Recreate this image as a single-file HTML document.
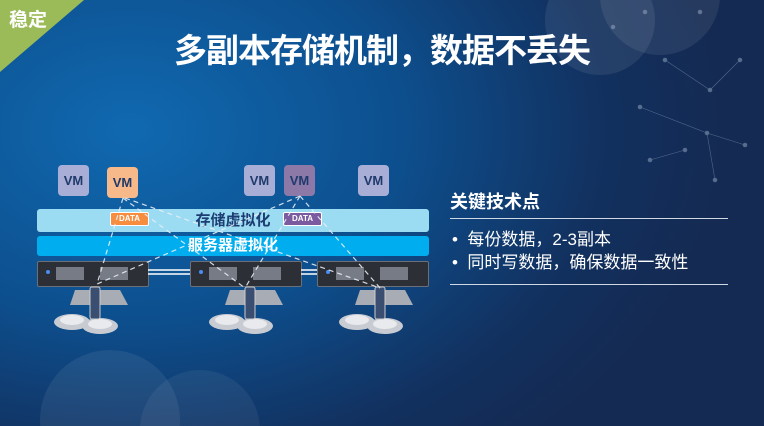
<!DOCTYPE html>
<html><head><meta charset="utf-8"><style>
html,body{margin:0;width:764px;height:426px;overflow:hidden;font-family:"Liberation Sans","Noto Sans CJK SC",sans-serif;}
#c{position:relative;width:764px;height:426px;background:radial-gradient(ellipse 600px 420px at 130px 130px,#1069b0 0%,#0d4f8e 45%,#12305e 80%,#142a52 100%);overflow:hidden}
.a{position:absolute}
.vm{position:absolute;width:31px;height:31px;border-radius:4px;background:#a9aed6;color:#1f3a6b;font-weight:bold;font-size:13px;text-align:center;line-height:31px}
.srv{position:absolute;height:24px;width:110px;background:#2c2f36;border:1px solid #6b6f78;border-radius:2px}
.srv i{position:absolute;top:5px;height:13px;background:#777b85}
.data{position:absolute;height:12px;width:37px;border:1.5px solid #fff;border-radius:2px;color:#fff;font-size:8px;font-weight:bold;text-align:center;line-height:12px}
</style></head><body><div id="c">
<svg class="a" style="left:0;top:0" width="764" height="426">
<circle cx="600" cy="20" r="55" fill="#fff" opacity="0.08"/><circle cx="660" cy="-5" r="60" fill="#fff" opacity="0.08"/>
<circle cx="110" cy="420" r="70" fill="#fff" opacity="0.07"/><circle cx="200" cy="430" r="60" fill="#fff" opacity="0.06"/>
<g stroke="#8fa3c0" stroke-width="0.6" opacity="0.5" fill="#9fb0c8">
<line x1="640" y1="107" x2="707" y2="133"/><line x1="707" y1="133" x2="745" y2="145"/><line x1="707" y1="133" x2="715" y2="180"/><line x1="650" y1="160" x2="685" y2="150"/><line x1="665" y1="60" x2="710" y2="90"/><line x1="710" y1="90" x2="740" y2="60"/>
<circle cx="640" cy="107" r="2"/><circle cx="707" cy="133" r="2"/><circle cx="745" cy="145" r="2"/><circle cx="715" cy="180" r="2"/><circle cx="650" cy="160" r="2"/><circle cx="685" cy="150" r="2"/><circle cx="665" cy="60" r="2"/><circle cx="710" cy="90" r="2"/><circle cx="740" cy="60" r="2"/><circle cx="645" cy="12" r="2"/><circle cx="700" cy="12" r="2"/><circle cx="613" cy="27" r="2"/>
</g>
<polygon points="0,0 84,0 0,72" fill="#9bbb59"/>
</svg>
<div class="a" style="left:9px;top:5px;color:#fff;font-weight:bold;font-size:19px">稳定</div>
<div class="a" style="left:0;width:764px;top:31px;text-align:center;color:#fff;font-weight:bold;font-size:33px;line-height:40px;letter-spacing:-1px">多副本存储机制，数据不丢失</div>
<div class="vm" style="left:58px;top:165px">VM</div>
<div class="vm" style="left:107px;top:167px;background:#f7b98a">VM</div>
<div class="vm" style="left:244px;top:165px">VM</div>
<div class="vm" style="left:284px;top:165px;background:#8c79a8">VM</div>
<div class="vm" style="left:358px;top:165px">VM</div>
<div class="a" style="left:37px;top:209px;width:392px;height:23px;background:#9bdcf3;border-radius:3px;text-align:center;color:#1d3d72;font-weight:bold;font-size:15px;line-height:23px">存储虚拟化</div>
<div class="a" style="left:37px;top:236px;width:392px;height:20px;background:#00aeef;border-radius:3px;text-align:center;color:#fff;font-weight:bold;font-size:15px;line-height:20px">服务器虚拟化</div>
<div class="data" style="left:110px;top:212px;background:#f68d3f">DATA</div>
<div class="data" style="left:283px;top:212px;background:#7b5aa0">DATA</div>
<div class="srv" style="left:37px;top:261px"><i style="left:18px;width:28px"></i><i style="left:62px;width:28px"></i></div>
<div class="srv" style="left:190px;top:261px"><i style="left:18px;width:28px"></i><i style="left:62px;width:28px"></i></div>
<div class="srv" style="left:317px;top:261px"><i style="left:18px;width:28px"></i><i style="left:62px;width:28px"></i></div>
<svg class="a" style="left:0;top:0" width="764" height="426">
<g stroke="#fff" stroke-width="1.5"><line x1="148" y1="270" x2="190" y2="270"/><line x1="148" y1="274" x2="190" y2="274"/><line x1="301" y1="270" x2="317" y2="270"/><line x1="301" y1="274" x2="317" y2="274"/></g>
<g fill="#4a8df0"><circle cx="48" cy="272" r="2"/><circle cx="201" cy="272" r="2"/><circle cx="328" cy="272" r="2"/></g>
<g id="d">
<polygon points="75,290 120,290 128,305 70,305" fill="#a8acb4"/>
<ellipse cx="72" cy="322" rx="18" ry="8" fill="#c8cbd2"/><ellipse cx="72" cy="320" rx="12" ry="5" fill="#e8eaee"/>
<ellipse cx="100" cy="326" rx="18" ry="8" fill="#c8cbd2"/><ellipse cx="100" cy="324" rx="12" ry="5" fill="#e8eaee"/>
<rect x="90" y="287" width="10" height="32" rx="2" fill="#3a4e72" stroke="#ccc"/>
</g>
<use href="#d" x="155" y="0"/><use href="#d" x="285" y="0"/>
<g stroke="#e8eef5" stroke-width="1.2" stroke-dasharray="5,4" fill="none" opacity="0.9">
<line x1="123" y1="198" x2="97" y2="284"/><line x1="123" y1="198" x2="245" y2="288"/><line x1="125" y1="198" x2="380" y2="288"/>
<line x1="300" y1="196" x2="97" y2="284"/><line x1="300" y1="196" x2="245" y2="288"/><line x1="300" y1="196" x2="380" y2="288"/>
</g>
</svg>
<div class="a" style="left:450px;top:188px;color:#fff;font-weight:bold;font-size:18px">关键技术点</div>
<div class="a" style="left:450px;top:218px;width:278px;height:1px;background:#d0d8e4"></div>
<div class="a" style="left:452px;top:228px;color:#fff;font-size:17px;line-height:23px">•&nbsp;&nbsp;每份数据，2-3副本<br>•&nbsp;&nbsp;同时写数据，确保数据一致性</div>
<div class="a" style="left:450px;top:284px;width:278px;height:1px;background:#d0d8e4"></div>
</div></body></html>
